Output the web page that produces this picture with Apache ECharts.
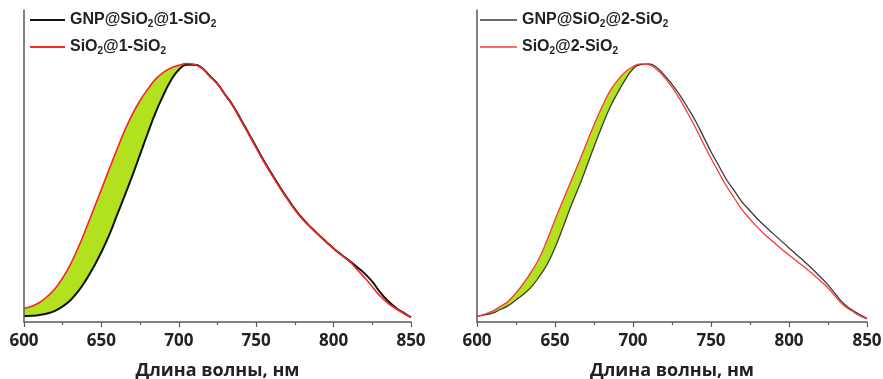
<!DOCTYPE html>
<html>
<head>
<meta charset="utf-8">
<script src="https://cdn.jsdelivr.net/npm/echarts@6/dist/echarts.min.js"></script>
<style>
    html, body {margin: 0; background: #fff;}
    #chart {width: 883px; height: 379px;}
</style>
</head>
<body>
<div id="chart"></div>
<script>
// wavelength grid, nm
const wavelengths = [600, 605, 610, 615, 620, 625, 630, 635, 640, 645, 650, 655, 660, 665, 670, 675, 680, 685, 690, 695,
    700, 705, 710, 715, 720, 725, 730, 735, 740, 745, 750, 755, 760, 765, 770, 775, 780, 785, 790, 795,
    800, 805, 810, 815, 820, 825, 830, 835, 840, 845, 850];

// left panel
const gnp1 = [0.023, 0.024, 0.027, 0.033, 0.043, 0.060, 0.084, 0.118, 0.161, 0.212, 0.269, 0.334, 0.410, 0.485, 0.563, 0.645, 0.727, 0.805, 0.872, 0.930,
    0.970, 0.989, 0.989, 0.977, 0.946, 0.916, 0.874, 0.832, 0.780, 0.727, 0.673, 0.619, 0.570, 0.522, 0.477, 0.434, 0.397, 0.366, 0.337, 0.310,
    0.283, 0.259, 0.236, 0.212, 0.187, 0.155, 0.115, 0.082, 0.056, 0.036, 0.018];
const sio1 = [0.053, 0.061, 0.075, 0.098, 0.128, 0.170, 0.222, 0.286, 0.358, 0.434, 0.510, 0.587, 0.663, 0.736, 0.799, 0.852, 0.896, 0.934, 0.960, 0.977,
    0.987, 0.994, 0.990, 0.976, 0.945, 0.915, 0.872, 0.830, 0.777, 0.724, 0.670, 0.616, 0.567, 0.519, 0.474, 0.432, 0.395, 0.365, 0.336, 0.309,
    0.282, 0.258, 0.235, 0.203, 0.171, 0.136, 0.100, 0.073, 0.052, 0.034, 0.018];

// right panel
const gnp2 = [0.021, 0.027, 0.034, 0.048, 0.063, 0.085, 0.108, 0.136, 0.176, 0.222, 0.286, 0.362, 0.442, 0.515, 0.593, 0.674, 0.751, 0.822, 0.880, 0.931,
    0.973, 0.990, 0.993, 0.980, 0.950, 0.914, 0.873, 0.825, 0.774, 0.715, 0.655, 0.601, 0.547, 0.504, 0.461, 0.428, 0.395, 0.366, 0.339, 0.312,
    0.285, 0.258, 0.232, 0.204, 0.174, 0.143, 0.106, 0.071, 0.048, 0.030, 0.014];
const sio2 = [0.021, 0.030, 0.042, 0.060, 0.080, 0.112, 0.150, 0.195, 0.247, 0.316, 0.393, 0.466, 0.538, 0.610, 0.684, 0.759, 0.826, 0.886, 0.928, 0.962,
    0.982, 0.993, 0.990, 0.972, 0.942, 0.903, 0.857, 0.804, 0.748, 0.688, 0.630, 0.575, 0.522, 0.476, 0.431, 0.396, 0.363, 0.334, 0.308, 0.282,
    0.258, 0.234, 0.211, 0.186, 0.159, 0.131, 0.097, 0.064, 0.044, 0.024, 0.012];

const names = ["GNP@SiO₂@1-SiO₂", "SiO₂@1-SiO₂", "GNP@SiO₂@2-SiO₂", "SiO₂@2-SiO₂"];
const axisTitle = "Длина волны, нм";

const pairs = (ys) => wavelengths.map((w, i) => [w, ys[i]]);

const chart = echarts.init(document.getElementById("chart"), null, {renderer: "canvas"});

const axisColor = "#5a5a5a";
const font = "'Open Sans', sans-serif";
const smoothness = 0.5;

function xAxisFor(gridIndex) {
    return {
        type: "value",
        gridIndex: gridIndex,
        z: 5,
        min: 600,
        max: 850,
        interval: 50,
        name: axisTitle,
        nameLocation: "middle",
        nameGap: 40,
        nameTextStyle: {color: "#222", fontFamily: font, fontWeight: "bold", fontSize: 18},
        axisLine: {lineStyle: {color: axisColor, width: 1.5}},
        axisTick: {length: 5, lineStyle: {color: axisColor, width: 1.2}},
        minorTick: {show: true, splitNumber: 2, length: 3, lineStyle: {color: axisColor, width: 1.2}},
        axisLabel: {color: "#222", fontFamily: font, fontWeight: "bold", fontSize: 17, margin: 11},
        splitLine: {show: false}
    };
}

function yAxisFor(gridIndex) {
    return {
        type: "value",
        gridIndex: gridIndex,
        z: 5,
        min: 0,
        max: 1.2,
        axisLine: {show: true, lineStyle: {color: axisColor, width: 1.5}},
        axisTick: {show: false},
        axisLabel: {show: false},
        splitLine: {show: false}
    };
}

// green band: area under the red curve, then the area under the black curve painted white
function bandSeries(idx, lo, hi) {
    const common = {
        type: "line",
        xAxisIndex: idx,
        yAxisIndex: idx,
        symbol: "none",
        smooth: smoothness,
        silent: true,
        lineStyle: {opacity: 0}
    };
    return [
        Object.assign({}, common, {name: "fill" + idx, data: pairs(hi), areaStyle: {color: "#b2e11f", opacity: 1}}),
        Object.assign({}, common, {name: "mask" + idx, data: pairs(lo), areaStyle: {color: "#ffffff", opacity: 1}})
    ];
}

function curve(idx, name, ys, color, width) {
    return {
        type: "line",
        name: name,
        xAxisIndex: idx,
        yAxisIndex: idx,
        symbol: "none",
        smooth: smoothness,
        color: color,
        lineStyle: {color: color, width: width},
        data: pairs(ys)
    };
}

const richText = {
    fontFamily: "'Liberation Sans', Arial, sans-serif",
    fontWeight: "bold",
    fontSize: 16,
    color: "#222",
    lineHeight: 18,
    rich: {
        s: {fontSize: 10, fontWeight: "bold", verticalAlign: "bottom", lineHeight: 9, color: "#222",
            fontFamily: "'Liberation Sans', Arial, sans-serif"}
    }
};
const subFormat = (name) => name.replace(/₂/g, "{s|2}");

chart.setOption({
    animation: false,
    backgroundColor: "#fff",
    grid: [
        {left: 24, top: 10, width: 387, height: 312, outerBoundsMode: "none"},
        {left: 477, top: 10, width: 390, height: 312, outerBoundsMode: "none"}
    ],
    xAxis: [xAxisFor(0), xAxisFor(1)],
    yAxis: [yAxisFor(0), yAxisFor(1)],
    legend: [
        {
            data: [names[0], names[1]],
            left: 25, top: 6, orient: "vertical", itemGap: 9,
            icon: "rect", itemWidth: 35, itemHeight: 2,
            textStyle: richText, formatter: subFormat
        },
        {
            data: [names[2], names[3]],
            left: 475, top: 6, orient: "vertical", itemGap: 9,
            icon: "rect", itemWidth: 37, itemHeight: 1.5,
            textStyle: richText, formatter: subFormat
        }
    ],
    series: [
        ...bandSeries(0, gnp1, sio1),
        curve(0, names[0], gnp1, "#111111", 2),
        curve(0, names[1], sio1, "#f52626", 1.6),
        ...bandSeries(1, gnp2, sio2),
        curve(1, names[2], gnp2, "#3a3a3a", 1.3),
        curve(1, names[3], sio2, "#f53a3a", 1.3)
    ]
});
</script>
</body>
</html>
